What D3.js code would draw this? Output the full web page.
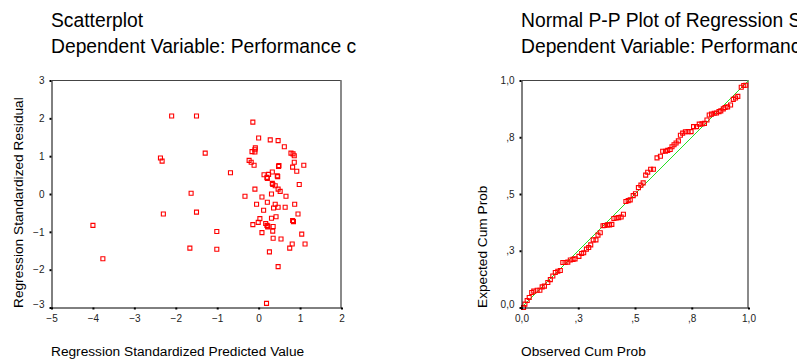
<!DOCTYPE html>
<html>
<head>
<meta charset="utf-8">
<script src="https://cdn.jsdelivr.net/npm/d3@7"></script>
<style>
  html, body { margin: 0; padding: 0; background: #fff; }
  svg { display: block; font-family: Arial, 'Liberation Sans', sans-serif; }
</style>
</head>
<body>
<div id="chart"></div>
<script>
// scatterplot: standardized predicted value vs standardized residual
const predicted = [
  -2.10, -1.50, -0.14, 0.00, 0.28, 0.47, 0.62, -0.08, -0.09, -0.16, -0.09, -1.29, 0.78, 0.83, 0.86,
  -2.37, -2.33, -0.23, -0.18, -0.11, 0.86, 0.49, 0.48, 1.09, 0.82, 0.92, -0.68, 0.33, 0.24, 0.13,
  0.20, 0.21, 0.45, 0.46, 0.33, 0.34, 0.40, 0.98, -0.09, 0.47, 0.52, -1.63, 0.31, -0.33, 0.08,
  0.66, -0.05, 0.21, 0.40, 0.87, 0.36, 0.47, 0.64, 0.12, -2.30, -1.50, 0.95, 0.03, 0.31, 0.42,
  -0.01, -0.14, 0.82, 0.84, -4.00, 0.17, 0.20, 0.22, 0.35, 0.22, -1.01, 0.08, 0.34, 1.04, 0.35,
  0.54, -1.66, -1.01, 0.81, 1.12, 0.75, 0.26, -3.76, 0.47, 0.19
];
const residual = [
  2.06, 2.06, 1.90, 1.48, 1.43, 1.41, 1.25, 1.22, 1.17, 1.12, 1.11, 1.08, 1.08, 1.06, 1.01,
  0.95, 0.87, 0.89, 0.84, 0.76, 0.84, 0.75, 0.73, 0.76, 0.71, 0.60, 0.56, 0.58, 0.52, 0.51,
  0.44, 0.41, 0.48, 0.46, 0.28, 0.25, 0.22, 0.25, 0.13, 0.13, 0.07, 0.02, 0.00, -0.06, -0.08,
  -0.06, -0.27, -0.22, -0.27, -0.27, -0.37, -0.35, -0.35, -0.43, -0.53, -0.48, -0.53, -0.65, -0.64, -0.60,
  -0.75, -0.81, -0.70, -0.73, -0.83, -0.78, -0.83, -0.85, -0.86, -0.87, -0.99, -1.02, -0.98, -1.06, -1.17,
  -1.19, -1.43, -1.46, -1.32, -1.32, -1.43, -1.53, -1.71, -1.92, -2.89
];
const scatterXTicks = [-5, -4, -3, -2, -1, 0, 1, 2];
const scatterYTicks = [-3, -2, -1, 0, 1, 2, 3];

// normal P-P plot: observed vs expected cumulative probability
const observedCum = [
  0.009, 0.015, 0.025, 0.034, 0.045, 0.054, 0.069, 0.081, 0.091, 0.101, 0.116, 0.127, 0.138, 0.149, 0.160,
  0.171, 0.182, 0.192, 0.204, 0.215, 0.227, 0.236, 0.253, 0.265, 0.274, 0.286, 0.296, 0.305, 0.316, 0.328,
  0.337, 0.347, 0.359, 0.366, 0.378, 0.388, 0.398, 0.407, 0.417, 0.428, 0.439, 0.449, 0.460, 0.470, 0.479,
  0.492, 0.502, 0.515, 0.526, 0.536, 0.547, 0.556, 0.569, 0.581, 0.597, 0.612, 0.622, 0.634, 0.644, 0.655,
  0.663, 0.672, 0.681, 0.691, 0.700, 0.710, 0.722, 0.734, 0.747, 0.758, 0.771, 0.783, 0.795, 0.806, 0.817,
  0.827, 0.837, 0.849, 0.859, 0.870, 0.878, 0.889, 0.897, 0.908, 0.921, 0.933, 0.943, 0.953, 0.968, 0.979,
  0.988
];
const expectedCum = [
  0.000, 0.015, 0.031, 0.044, 0.066, 0.072, 0.076, 0.076, 0.091, 0.094, 0.110, 0.123, 0.139, 0.154, 0.160,
  0.163, 0.198, 0.198, 0.200, 0.209, 0.212, 0.214, 0.225, 0.238, 0.241, 0.257, 0.264, 0.276, 0.298, 0.298,
  0.319, 0.329, 0.360, 0.361, 0.364, 0.364, 0.366, 0.392, 0.394, 0.396, 0.399, 0.411, 0.467, 0.471, 0.474,
  0.493, 0.501, 0.528, 0.539, 0.549, 0.583, 0.596, 0.609, 0.609, 0.659, 0.666, 0.688, 0.688, 0.692, 0.696,
  0.708, 0.717, 0.725, 0.734, 0.759, 0.768, 0.774, 0.775, 0.775, 0.797, 0.797, 0.808, 0.809, 0.811, 0.826,
  0.848, 0.852, 0.856, 0.857, 0.863, 0.866, 0.875, 0.881, 0.884, 0.892, 0.917, 0.923, 0.930, 0.970, 0.978,
  0.979
];
const ppTicks = [0, 0.25, 0.5, 0.75, 1];
const ppTickLabels = ['0,0', ',3', ',5', ',8', '1,0'];

const width = 797, height = 363;

const svg = d3.select('#chart').append('svg')
  .attr('width', width)
  .attr('height', height);

svg.append('rect').attr('width', width).attr('height', height).attr('fill', '#fff');

const defs = svg.append('defs');
defs.append('clipPath').attr('id', 'clipLeft')
  .append('rect').attr('x', 0).attr('y', 0).attr('width', 358).attr('height', height);

const marker = d3.symbol(d3.symbolSquare, 16);

function panel(opts) {
  const {x0, x1, y0, y1, xScale, yScale, xTicks, yTicks, xFmt, yFmt, xs, ys,
    title, subtitle, xLabel, yLabel, clip, diagonal} = opts;

  const g = svg.append('g');

  const titles = g.append('g').attr('font-size', '19.3px').attr('fill', '#000');
  if (clip) titles.attr('clip-path', `url(#${clip})`);
  titles.append('text').attr('x', x0).attr('y', 26.5).text(title);
  titles.append('text').attr('x', x0).attr('y', 52.5).text(subtitle);

  const plot = g.append('g').attr('transform', 'translate(0.5,0.5)');

  // frame: top thin dark line, right thicker gray line
  plot.append('line')
    .attr('x1', x0).attr('x2', x1).attr('y1', y0).attr('y2', y0)
    .attr('stroke', '#444').attr('stroke-width', 1);
  plot.append('line')
    .attr('x1', x1 - 0.5).attr('x2', x1 - 0.5).attr('y1', y0).attr('y2', y1)
    .attr('stroke', '#8a8a8a').attr('stroke-width', 2);

  if (diagonal) {
    plot.append('line')
      .attr('x1', xScale(0)).attr('y1', yScale(0))
      .attr('x2', xScale(1)).attr('y2', yScale(1))
      .attr('stroke', '#22e022').attr('stroke-width', 1);
  }

  plot.append('g')
    .attr('fill', 'none')
    .attr('stroke', '#ff0000')
    .attr('stroke-width', 1.1)
    .selectAll('path')
    .data(d3.range(xs.length))
    .join('path')
    .attr('d', marker)
    .attr('transform', (i) => `translate(${xScale(xs[i])},${yScale(ys[i])})`);

  const yAxis = plot.append('g')
    .attr('transform', `translate(${x0},0)`)
    .call(d3.axisLeft(yScale).tickValues(yTicks).tickFormat(yFmt)
      .tickSizeInner(2).tickSizeOuter(0).tickPadding(5));
  const xAxis = plot.append('g')
    .attr('transform', `translate(0,${y1})`)
    .call(d3.axisBottom(xScale).tickValues(xTicks).tickFormat(xFmt)
      .tickSizeInner(2).tickSizeOuter(0).tickPadding(5));

  [xAxis, yAxis].forEach((ax) => {
    ax.select('.domain').attr('stroke', '#000').attr('stroke-width', 1);
    ax.selectAll('.tick line').attr('stroke', '#000').attr('stroke-width', 2);
    ax.selectAll('.tick text')
      .attr('font-size', '10px')
      .attr('font-family', "Arial, 'Liberation Sans', sans-serif")
      .attr('fill', '#222');
  });
  // lowest y label sits a little above its tick
  yAxis.selectAll('.tick text').filter((d) => d === yTicks[0]).attr('dy', '-0.05em');

  g.append('text')
    .attr('x', x0).attr('y', 356)
    .attr('font-size', '13.7px')
    .attr('fill', '#000')
    .text(xLabel);

  g.append('text')
    .attr('transform', `translate(${opts.yLabelX},${y1 + 1}) rotate(-90)`)
    .attr('font-size', '13.7px')
    .attr('fill', '#000')
    .text(yLabel);
}

const sx = d3.scaleLinear().domain([-5, 2]).range([51, 341]);
const sy = d3.scaleLinear().domain([-3, 3]).range([307, 80]);

panel({
  x0: 51, x1: 341, y0: 80, y1: 307,
  xScale: sx, yScale: sy,
  xTicks: scatterXTicks, yTicks: scatterYTicks,
  xFmt: d3.format('d'), yFmt: d3.format('d'),
  xs: predicted, ys: residual,
  title: 'Scatterplot',
  subtitle: 'Dependent Variable: Performance c',
  xLabel: 'Regression Standardized Predicted Value',
  yLabel: 'Regression Standardized Residual',
  yLabelX: 22.7,
  clip: 'clipLeft',
  diagonal: false
});

const px = d3.scaleLinear().domain([0, 1]).range([521, 748]);
const py = d3.scaleLinear().domain([0, 1]).range([307, 80]);

panel({
  x0: 521, x1: 748, y0: 80, y1: 307,
  xScale: px, yScale: py,
  xTicks: ppTicks, yTicks: ppTicks,
  xFmt: (d, i) => ppTickLabels[i], yFmt: (d, i) => ppTickLabels[i],
  xs: observedCum, ys: expectedCum,
  title: 'Normal P-P Plot of Regression Standardized Residual',
  subtitle: 'Dependent Variable: Performance coaching',
  xLabel: 'Observed Cum Prob',
  yLabel: 'Expected Cum Prob',
  yLabelX: 486.5,
  clip: null,
  diagonal: true
});
</script>
</body>
</html>
